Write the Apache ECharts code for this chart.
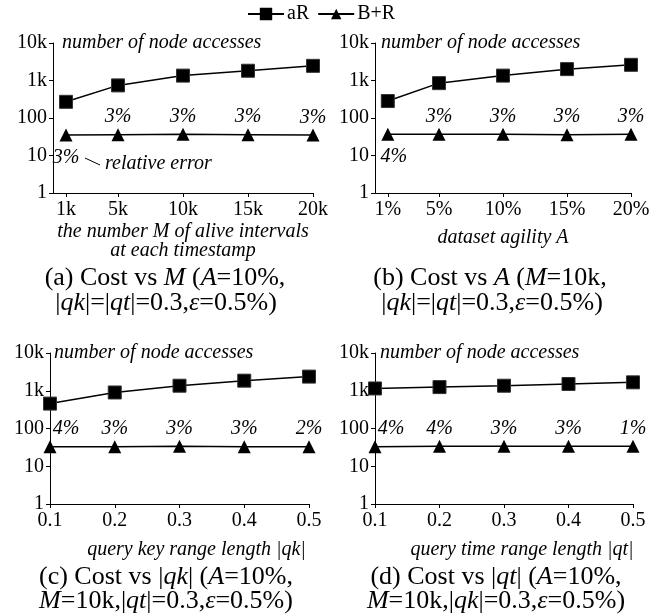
<!DOCTYPE html>
<html>
<head>
<meta charset="utf-8">
<script src="https://cdn.jsdelivr.net/npm/echarts@6/dist/echarts.min.js"></script>
<style>
  html, body { margin: 0; padding: 0; background: #fff; }
  #main { width: 662px; height: 616px; }
</style>
</head>
<body>
<div id="main"></div>
<script>
// x values of each panel
var xM = [1, 5, 10, 15, 20];          // M, in k
var xAg = [1, 5, 10, 15, 20];         // A, in %
var xQk = [0.1, 0.2, 0.3, 0.4, 0.5];
var xQt = [0.1, 0.2, 0.3, 0.4, 0.5];

// number of node accesses
var aR_M = [270, 740, 1350, 1820, 2460];
var bR_M = [35, 36, 37, 36, 35];
var aR_A = [283, 850, 1350, 2010, 2620];
var bR_A = [37, 37, 37, 36, 37];
var aR_qk = [457, 900, 1360, 1850, 2370];
var bR_qk = [33, 33, 34, 33, 33];
var aR_qt = [1150, 1250, 1360, 1510, 1670];
var bR_qt = [33, 34, 34, 34, 34];

// relative error of B+R
var err_M = ['3%', '3%', '3%', '3%', '3%'];
var err_A = ['4%', '3%', '3%', '3%', '3%'];
var err_qk = ['4%', '3%', '3%', '3%', '2%'];
var err_qt = ['4%', '4%', '3%', '3%', '1%'];

var yTicks = ['1', '10', '100', '1k', '10k'];

var FONT = 'Liberation Serif';
var chart = echarts.init(document.getElementById('main'));

function pairs(xs, ys) {
  var out = [];
  for (var i = 0; i < xs.length; i++) out.push([xs[i], ys[i]]);
  return out;
}

// below: first label goes under the point (panels a, b)
function errData(xs, ys, errs, below) {
  var out = [];
  for (var i = 0; i < xs.length; i++) {
    var lab = { show: true, formatter: errs[i] };
    if (i === 0 && below) {
      lab.position = 'bottom';
      lab.distance = 6;
      lab.offset = [below === 2 ? 6 : 0, 0];
    } else if (i === 0) {
      lab.offset = [16, 0];
    }
    out.push({ value: [xs[i], ys[i]], label: lab });
  }
  return out;
}

var grids = [
  { left: 53, top: 43, width: 260, height: 150 },
  { left: 375, top: 43, width: 256, height: 150 },
  { left: 50, top: 353, width: 259, height: 151 },
  { left: 375, top: 353, width: 258, height: 151 }
];

function xAxis(idx, min, max, ticks, fmt, name, gap, pad) {
  return {
    type: 'value', gridIndex: idx, min: min, max: max,
    splitLine: { show: false },
    axisLine: { lineStyle: { color: '#000', width: 1 } },
    axisTick: { customValues: ticks, length: 4, lineStyle: { color: '#000' } },
    axisLabel: { customValues: ticks, formatter: fmt, color: '#000', fontFamily: FONT, fontSize: 20, margin: 7 },
    name: name, nameLocation: 'middle', nameGap: gap,
    nameTextStyle: { color: '#000', fontFamily: FONT, fontSize: 20, fontStyle: 'italic', lineHeight: 19, padding: pad || 0 }
  };
}

function yAxis(idx) {
  return {
    type: 'log', logBase: 10, gridIndex: idx, min: 1, max: 10000,
    splitLine: { show: false },
    axisLine: { show: true, lineStyle: { color: '#000', width: 1 } },
    axisTick: { show: true, length: 4, lineStyle: { color: '#000' } },
    axisLabel: {
      color: '#000', fontFamily: FONT, fontSize: 20, margin: 6,
      formatter: function (v) { return yTicks[Math.round(Math.log10(v))]; }
    }
  };
}

function seriesPair(idx, xs, aR, bR, errs, below) {
  return [
    {
      name: 'aR', type: 'line', xAxisIndex: idx, yAxisIndex: idx,
      data: pairs(xs, aR), symbol: 'rect', symbolSize: 13,
      lineStyle: { color: '#000', width: 1.5 },
      itemStyle: { color: '#000', borderColor: '#333', borderWidth: 1 }
    },
    {
      name: 'B+R', type: 'line', xAxisIndex: idx, yAxisIndex: idx,
      data: errData(xs, bR, errs, below), symbol: 'triangle', symbolSize: 13,
      lineStyle: { color: '#000', width: 1.5 },
      itemStyle: { color: '#000' },
      label: { position: 'top', distance: 1, color: '#000', fontFamily: FONT, fontSize: 20, fontStyle: 'italic' }
    }
  ];
}

var capRich = {
  n: { fontFamily: FONT, fontSize: 26, fill: '#000' },
  i: { fontFamily: FONT, fontSize: 26, fontStyle: 'italic', fill: '#000' }
};

function caption(cx, cy, text) {
  return {
    type: 'text', x: cx, y: cy,
    style: { text: text, rich: capRich, align: 'center', verticalAlign: 'middle' }
  };
}

function topNote(x, y) {
  return {
    type: 'text', x: x, y: y,
    style: { text: 'number of node accesses', font: 'italic 20px "Liberation Serif"', fill: '#000', verticalAlign: 'middle' }
  };
}

var option = {
  animation: false,
  backgroundColor: '#fff',
  legend: {
    top: 4, left: 247, padding: 0, itemWidth: 36, itemHeight: 13, itemGap: 8,
    data: ['aR', 'B+R'],
    itemStyle: { color: '#000', borderColor: '#000' },
    textStyle: { color: '#000', fontFamily: FONT, fontSize: 20, padding: [0, 0, 0, -2] }
  },
  grid: grids,
  xAxis: [
    xAxis(0, 0, 20, xM, function (v) { return v + 'k'; },
      'the number M of alive intervals\nat each timestamp', 29),
    xAxis(1, 0, 20, xAg, function (v) { return v + '%'; }, 'dataset agility A', 35),
    xAxis(2, 0.1, 0.5, xQk, function (v) { return v.toFixed(1); }, 'query key range length |qk|', 36, [0, 0, 0, 34]),
    xAxis(3, 0.1, 0.5, xQt, function (v) { return v.toFixed(1); }, 'query time range length |qt|', 36, [0, 0, 0, 36])
  ],
  yAxis: [yAxis(0), yAxis(1), yAxis(2), yAxis(3)],
  series: [].concat(
    seriesPair(0, xM, aR_M, bR_M, err_M, 1),
    seriesPair(1, xAg, aR_A, bR_A, err_A, 2),
    seriesPair(2, xQk, aR_qk, bR_qk, err_qk, 0),
    seriesPair(3, xQt, aR_qt, bR_qt, err_qt, 0)
  ),
  graphic: [
    topNote(62, 43), topNote(381, 43), topNote(54, 353), topNote(380, 353),
    { type: 'line', shape: { x1: 85, y1: 158, x2: 100, y2: 165 }, style: { stroke: '#000', lineWidth: 1 } },
    { type: 'text', x: 105, y: 164, style: { text: 'relative error', font: 'italic 20px "Liberation Serif"', fill: '#000', verticalAlign: 'middle' } },
    caption(165, 278, '{n|(a) Cost vs }{i|M}{n| (}{i|A}{n|=10%,}'),
    caption(166, 303, '{n||}{i|qk}{n||=|}{i|qt}{n||=0.3,}{i|ε}{n|=0.5%)}'),
    caption(490, 278, '{n|(b) Cost vs }{i|A}{n| (}{i|M}{n|=10k,}'),
    caption(492, 303, '{n||}{i|qk}{n||=|}{i|qt}{n||=0.3,}{i|ε}{n|=0.5%)}'),
    caption(166, 577, '{n|(c) Cost vs |}{i|qk}{n|| (}{i|A}{n|=10%,}'),
    caption(166, 601, '{i|M}{n|=10k,|}{i|qt}{n||=0.3,}{i|ε}{n|=0.5%)}'),
    caption(496, 577, '{n|(d) Cost vs |}{i|qt}{n|| (}{i|A}{n|=10%,}'),
    caption(496, 601, '{i|M}{n|=10k,|}{i|qk}{n||=0.3,}{i|ε}{n|=0.5%)}')
  ]
};

chart.setOption(option);
</script>
</body>
</html>
